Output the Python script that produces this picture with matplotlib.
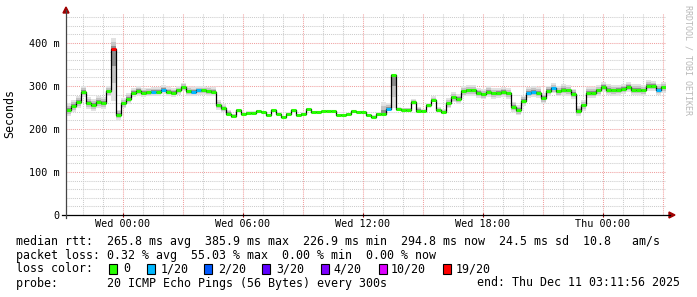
import matplotlib
matplotlib.use("Agg")
import matplotlib.pyplot as plt
import numpy as np
from matplotlib.collections import LineCollection
from matplotlib.patches import Polygon, Rectangle

# ---------------- data (15-minute samples, hours relative to Wed 00:00) ----------------
start_hour = -2.85
step_hours = 0.25

median = [
    244, 253, 263, 287, 260, 255, 262, 260, 288, 386, 233, 260, 271, 285, 289, 285, 286, 287, 287, 292,
    287, 285, 290, 298, 288, 287, 290, 290, 288, 287, 255, 248, 236, 230, 244, 234, 238, 238, 242, 240,
    232, 244, 236, 228, 236, 244, 232, 236, 246, 239, 240, 241, 242, 241, 233, 233, 235, 242, 240, 240,
    232, 229, 236, 234, 246, 326, 246, 245, 245, 262, 243, 242, 255, 268, 244, 240, 260, 274, 270, 288,
    290, 290, 284, 281, 287, 283, 284, 286, 283, 252, 244, 266, 285, 287, 285, 272, 289, 295, 288, 292,
    290, 282, 242, 255, 285, 285, 290, 298, 292, 290, 291, 293, 298, 292, 292, 290, 301, 300, 292, 297,
]
smoke_hi = [
    14, 14, 14, 12, 14, 14, 14, 14, 12, 25, 12, 12, 12, 10, 10, 10, 10, 10, 10, 10,
    10, 10, 10, 10, 10, 10, 10, 10, 10, 10, 12, 10, 8, 6, 3, 3, 3, 3, 3, 3,
    3, 3, 3, 3, 3, 3, 3, 3, 3, 3, 3, 3, 3, 3, 3, 3, 3, 3, 3, 3,
    3, 3, 3, 30, 15, 2, 5, 5, 5, 8, 8, 5, 5, 8, 8, 6, 12, 12, 12, 12,
    12, 12, 12, 12, 12, 12, 12, 12, 12, 12, 12, 12, 12, 12, 12, 12, 12, 12, 12, 12,
    12, 12, 12, 12, 12, 12, 12, 12, 12, 12, 12, 12, 12, 12, 12, 12, 12, 12, 12, 12,
]
smoke_lo = [
    14, 14, 14, 12, 14, 14, 14, 14, 12, 120, 12, 12, 12, 10, 10, 10, 10, 10, 10, 10,
    10, 10, 10, 10, 10, 10, 10, 10, 10, 10, 10, 8, 6, 5, 3, 3, 3, 3, 3, 3,
    3, 3, 3, 3, 3, 3, 3, 3, 3, 3, 3, 3, 3, 3, 3, 3, 3, 3, 3, 3,
    3, 3, 3, 3, 5, 78, 5, 5, 5, 5, 5, 5, 5, 5, 5, 5, 12, 12, 12, 12,
    12, 12, 12, 12, 12, 12, 12, 12, 12, 12, 12, 12, 12, 12, 12, 12, 12, 12, 12, 12,
    12, 12, 12, 12, 12, 12, 12, 12, 12, 12, 12, 12, 12, 12, 12, 12, 12, 12, 12, 12,
]
loss = [
    0, 0, 0, 0, 0, 0, 0, 0, 0, 19, 0, 0, 0, 0, 0, 0, 0, 1, 0, 1,
    0, 0, 0, 0, 0, 1, 1, 0, 0, 0, 0, 0, 0, 0, 0, 0, 0, 0, 0, 0,
    0, 0, 0, 0, 0, 0, 0, 0, 0, 0, 0, 0, 0, 0, 0, 0, 0, 0, 0, 0,
    0, 0, 0, 0, 1, 0, 0, 0, 0, 0, 0, 0, 0, 0, 0, 0, 0, 0, 0, 0,
    0, 0, 0, 0, 0, 0, 0, 0, 0, 0, 0, 0, 1, 1, 0, 0, 0, 1, 0, 0,
    0, 0, 0, 0, 0, 0, 0, 0, 0, 0, 0, 0, 0, 0, 0, 0, 0, 0, 1, 0,
]

loss_levels = [0, 1, 2, 3, 4, 10, 19]
loss_labels = ["0", "1/20", "2/20", "3/20", "4/20", "10/20", "19/20"]
loss_colors = ["#26ff00", "#00b8ff", "#0059ff", "#5e00ff", "#7e00ff", "#dd00ff", "#ff0000"]

x_ticks = [0, 6, 12, 18, 24]
x_ticklabels = ["Wed 00:00", "Wed 06:00", "Wed 12:00", "Wed 18:00", "Thu 00:00"]
y_ticks = [0, 100, 200, 300, 400]
y_ticklabels = ["0", "100 m", "200 m", "300 m", "400 m"]

line_rtt = "median rtt:  265.8 ms avg  385.9 ms max  226.9 ms min  294.8 ms now  24.5 ms sd  10.8   am/s"
line_loss = "packet loss: 0.32 % avg  55.03 % max  0.00 % min  0.00 % now"
line_color = "loss color:"
line_probe = "probe:       20 ICMP Echo Pings (56 Bytes) every 300s"
line_end = "end: Thu Dec 11 03:11:56 2025"
watermark = "RRDTOOL / TOBI OETIKER"

# ---------------- figure ----------------
W, H = 697, 297
MONO = "DejaVu Sans Mono"
fig = plt.figure(figsize=(W / 100, H / 100), dpi=100)
fig.patch.set_facecolor("white")

x0, x1, ytop, ybot = 66, 666, 13, 215
ax = fig.add_axes([x0 / W, 1 - ybot / H, (x1 - x0) / W, (ybot - ytop) / H])
ax.set_facecolor("white")
xmin = start_hour
xmax = start_hour + step_hours * len(median)
ax.set_xlim(xmin, xmax)
ax.set_ylim(0, 470)
for s in ax.spines.values():
    s.set_visible(False)

# grid
for h in range(-2, 28):
    if h % 3 == 0:
        continue
    ax.axvline(h, color="#cccccc", lw=0.75, ls=(0, (1, 1)), zorder=0)
for v in range(20, 470, 20):
    if v % 100 == 0:
        continue
    ax.axhline(v, color="#cccccc", lw=0.75, ls=(0, (1, 1)), zorder=0)
for h in range(0, 28, 3):
    ax.axvline(h, color="#f0a0a0", lw=0.75, ls=(0, (1, 1)), zorder=0)
for v in range(100, 470, 100):
    ax.axhline(v, color="#f0a0a0", lw=0.75, ls=(0, (1, 1)), zorder=0)

t = start_hour + step_hours * np.arange(len(median))
med = np.array(median, float)
hi = np.array(smoke_hi, float)
lo = np.array(smoke_lo, float)
te = np.append(t, t[-1] + step_hours)
def ext(a):
    return np.append(a, a[-1])

# smoke layers
for frac, col in [(1.0, "#e2e2e2"), (0.66, "#c4c4c4"), (0.33, "#8e8e8e")]:
    ax.fill_between(te, ext(med - lo * frac), ext(med + hi * frac), step="post",
                    color=col, lw=0, zorder=1)

# median: black step line plus loss-coloured segments
ax.step(te, ext(med), where="post", color="black", lw=0.9, zorder=2)
cmap = dict(zip(loss_levels, loss_colors))
segs = [[(t[i], med[i]), (t[i] + step_hours, med[i])] for i in range(len(med))]
cols = [cmap[l] for l in loss]
ax.add_collection(LineCollection(segs, colors=cols, linewidths=2.2, zorder=3, capstyle="butt"))

ax.set_xticks(x_ticks, x_ticklabels, fontfamily=MONO, fontsize=7.3)
ax.set_yticks(y_ticks, y_ticklabels, fontfamily=MONO, fontsize=7.3)
ax.tick_params(axis="x", length=3, width=0.8, direction="inout", color="#a00000", pad=1.5)
ax.tick_params(axis="y", length=0, pad=4.5)

# ---------------- overlay in pixel coordinates ----------------
ov = fig.add_axes([0, 0, 1, 1])
ov.set_xlim(0, W)
ov.set_ylim(H, 0)
ov.axis("off")
ov.patch.set_visible(False)

ov.plot([62, 670], [215, 215], color="black", lw=0.9)
ov.plot([66, 66], [10, 218], color="#444444", lw=0.9)
ov.add_patch(Polygon([[63, 13], [69, 13], [66, 7]], closed=True, color="#a00000"))
ov.add_patch(Polygon([[669, 212], [669, 218], [675, 215]], closed=True, color="#a00000"))

ov.text(10, 113, "Seconds", rotation=90, ha="center", va="center", fontsize=8.4, fontfamily=MONO)
ov.text(688, 5, watermark, rotation=270, ha="center", va="top", fontsize=6,
        fontfamily=MONO, color="#b8b8b8")

fs = 8.4
ov.text(16, 241, line_rtt, ha="left", va="center", fontsize=fs, fontfamily=MONO)
ov.text(16, 255, line_loss, ha="left", va="center", fontsize=fs, fontfamily=MONO)
ov.text(16, 269, line_color, ha="left", va="center", fontsize=fs, fontfamily=MONO)
ov.text(16, 283, line_probe, ha="left", va="center", fontsize=fs, fontfamily=MONO)
ov.text(680, 283, line_end, ha="right", va="center", fontsize=fs, fontfamily=MONO)

box_x = [109, 147, 204, 262, 321, 379, 443]
lab_x = [123, 161, 218, 276, 333, 391, 456]
for bx, lx, col, lab in zip(box_x, lab_x, loss_colors, loss_labels):
    ov.add_patch(Rectangle((bx, 264), 8, 10, facecolor=col, edgecolor="black", lw=0.8))
    ov.text(lx, 269, lab, ha="left", va="center", fontsize=fs, fontfamily=MONO)

fig.savefig("out.png", dpi=100, facecolor="white")
